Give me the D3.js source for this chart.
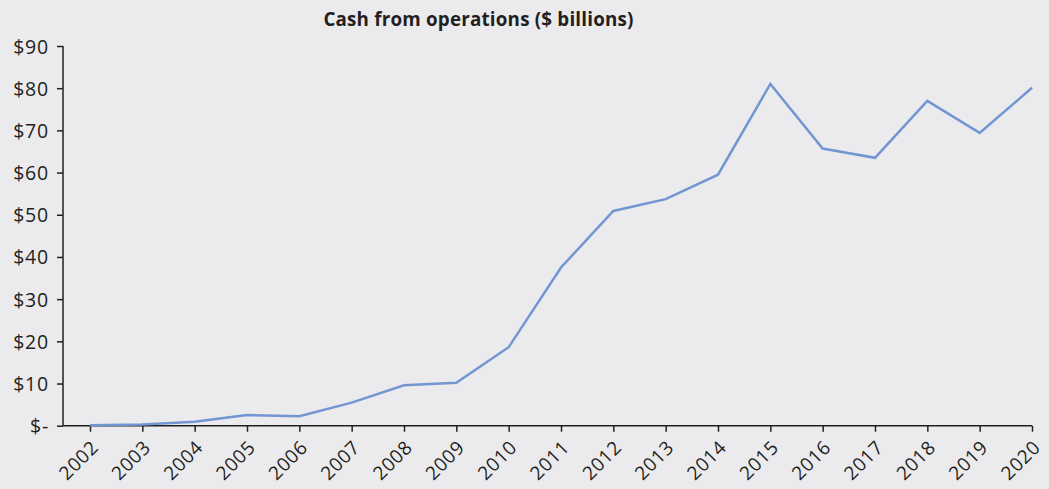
<!DOCTYPE html>
<html><head><meta charset="utf-8">
<script src="https://cdn.jsdelivr.net/npm/d3@7"></script>
<style>
html,body{margin:0;padding:0;background:#ebebee;}
svg{display:block;}
text{font-family:"Open Sans",sans-serif;fill:#231f20;}
</style></head><body>
<svg id="c" width="1049" height="489"></svg>
<script>
const years = ["2002","2003","2004","2005","2006","2007","2008","2009","2010","2011","2012","2013","2014","2015","2016","2017","2018","2019","2020"];
const cashFromOps = [0.09,0.29,0.93,2.54,2.22,5.47,9.6,10.16,18.6,37.5,50.9,53.7,59.5,81.0,65.7,63.5,77.0,69.4,80.1];
const yTicks = [0,10,20,30,40,50,60,70,80,90];
const yTickLabels = ["$-","$10","$20","$30","$40","$50","$60","$70","$80","$90"];
const title = "Cash from operations ($ billions)";

const FONT = "'Open Sans',sans-serif";
const svg = d3.select("#c");
const W = 1049, H = 489;
svg.append("rect").attr("width",W).attr("height",H).attr("fill","#ebebee");

const x = d3.scalePoint().domain(years).range([90,1032]);
const y = d3.scaleLinear().domain([0,90]).range([425.7,46]);

// title
svg.append("text").attr("x",478.5).attr("y",26).attr("text-anchor","middle")
  .attr("font-size",18.8).attr("font-weight","bold").attr("letter-spacing",0.2).text(title);

// y axis
const yAx = svg.append("g").attr("transform","translate(63,0)")
  .call(d3.axisLeft(y).tickValues(yTicks).tickSize(6).tickPadding(8)
    .tickFormat((d,i)=>yTickLabels[i]));
yAx.select(".domain").attr("stroke","#231f20").attr("stroke-width",1.5).attr("d","M0,"+y(90)+"V"+y(0));
yAx.selectAll(".tick line").attr("stroke","#231f20").attr("stroke-width",1.5);
yAx.selectAll(".tick text").attr("font-size",19.5).attr("font-family",FONT).attr("fill","#231f20")
  .attr("letter-spacing",0.8).attr("dy","0.36em");

// x axis
const xAx = svg.append("g").attr("transform","translate(0,"+y(0)+")")
  .call(d3.axisBottom(x).tickSize(6).tickSizeOuter(0));
xAx.select(".domain").attr("stroke","#231f20").attr("stroke-width",1.5).attr("d","M63,0H"+x("2020"));
xAx.selectAll(".tick line").attr("stroke","#231f20").attr("stroke-width",1.5);
xAx.selectAll(".tick text").attr("font-size",19).attr("font-family",FONT).attr("fill","#231f20")
  .attr("letter-spacing",0.6).attr("text-anchor","end").attr("dy",null).attr("y",null)
  .attr("transform","translate(9,23) rotate(-45)");

// line
const line = d3.line().x((d,i)=>x(years[i])).y(d=>y(d));
svg.append("path").datum(cashFromOps).attr("d",line)
  .attr("fill","none").attr("stroke","#7196d2").attr("stroke-width",2.5).attr("stroke-linejoin","miter");
</script></body></html>
